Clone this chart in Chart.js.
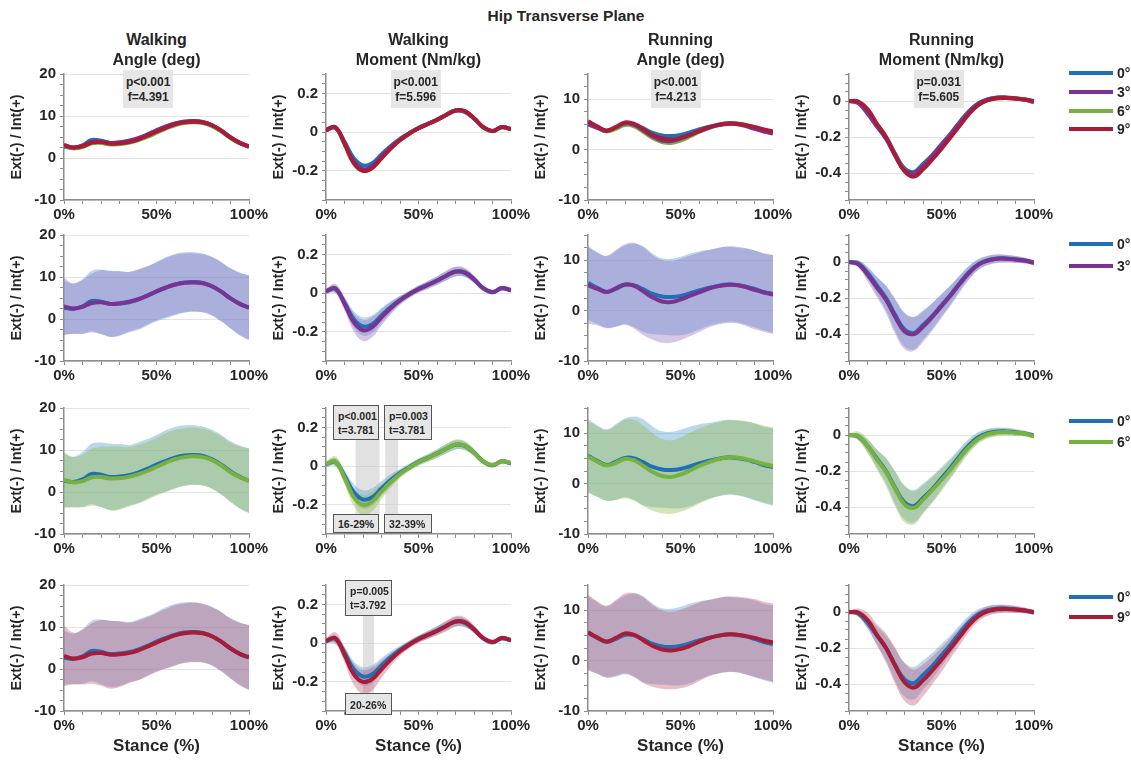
<!DOCTYPE html>
<html>
<head>
<meta charset="utf-8">
<script src="https://cdn.jsdelivr.net/npm/chart.js@4.4.1/dist/chart.umd.min.js"></script>
<style>
  body { margin: 0; background: #fff; font-family: "Liberation Sans", Arial, sans-serif; }
  #page { position: relative; width: 1131px; height: 762px; overflow: hidden; }
  .panel { position: absolute; }
  .txt { position: absolute; font-weight: bold; color: #262626; white-space: nowrap; text-align: center; }
  .box { position: absolute; background: #e6e6e6; font-weight: bold; color: #262626; box-sizing: border-box; white-space: nowrap; }
  .legline { position: absolute; height: 4px; }
</style>
</head>
<body>
<div id="page"></div>
<script>
// stance (%) sample points
const stance = [0,5,10,15,20,25,30,35,40,45,50,55,60,65,70,75,80,85,90,95,100];

// walking hip angle (deg) - means and SD per slope condition
const walkAngle0 = [2.7,2.4,3.0,4.3,4.1,3.6,3.7,4.0,4.6,5.5,6.5,7.4,8.2,8.7,8.8,8.6,7.8,6.5,4.9,3.6,2.7];
const walkAngle3 = [3.0,2.5,2.9,3.8,4.0,3.6,3.7,4.1,4.7,5.6,6.6,7.5,8.2,8.6,8.7,8.5,7.8,6.5,4.9,3.6,2.7];
const walkAngle6 = [2.9,2.3,2.6,3.5,3.6,3.2,3.3,3.6,4.2,5.0,6.0,7.0,7.8,8.3,8.5,8.3,7.6,6.3,4.7,3.5,2.7];
const walkAngle9 = [3.1,2.5,2.8,3.7,3.8,3.4,3.5,3.8,4.4,5.3,6.3,7.2,8.0,8.5,8.7,8.5,7.8,6.5,4.9,3.6,2.8];
const walkAngleSd0 = [6.4,6.0,6.5,7.2,7.7,7.9,7.7,7.2,7.2,7.1,7.1,7.3,7.3,7.2,7.1,7.0,7.0,7.1,7.2,7.5,7.7];
const walkAngleSd3 = [6.8,6.0,6.4,7.0,7.6,7.8,7.6,7.1,7.0,6.9,6.9,7.0,7.1,7.0,6.9,6.9,6.9,7.0,7.1,7.4,7.6];
const walkAngleSd6 = [6.6,6.0,6.3,6.8,7.2,7.6,7.5,7.1,7.0,6.9,6.9,7.0,7.0,6.9,6.8,6.8,6.8,6.9,7.1,7.4,7.6];
const walkAngleSd9 = [7.2,6.2,6.5,7.2,7.8,8.1,7.8,7.2,7.1,7.0,7.0,7.1,7.2,7.1,7.1,7.0,6.9,7.0,7.1,7.4,7.7];

// walking hip moment (Nm/kg)
const walkMoment0 = [0.010,0.022,-0.050,-0.135,-0.172,-0.160,-0.115,-0.072,-0.035,-0.005,0.022,0.043,0.065,0.090,0.110,0.105,0.070,0.025,0.005,0.025,0.015];
const walkMoment3 = [0.010,0.025,-0.055,-0.150,-0.192,-0.175,-0.125,-0.078,-0.038,-0.006,0.020,0.042,0.064,0.090,0.112,0.107,0.072,0.026,0.006,0.026,0.016];
const walkMoment6 = [0.012,0.025,-0.060,-0.160,-0.200,-0.182,-0.130,-0.082,-0.040,-0.008,0.020,0.042,0.064,0.090,0.112,0.106,0.070,0.025,0.006,0.025,0.016];
const walkMoment9 = [0.012,0.026,-0.060,-0.160,-0.200,-0.185,-0.135,-0.085,-0.042,-0.008,0.020,0.042,0.063,0.088,0.112,0.108,0.072,0.026,0.006,0.026,0.016];
const walkMomentSd0 = [0.012,0.020,0.030,0.042,0.048,0.046,0.038,0.030,0.022,0.018,0.018,0.020,0.022,0.024,0.024,0.022,0.018,0.014,0.012,0.012,0.012];
const walkMomentSd3 = [0.013,0.024,0.034,0.048,0.055,0.052,0.042,0.032,0.023,0.019,0.018,0.020,0.022,0.024,0.025,0.023,0.019,0.015,0.012,0.012,0.012];
const walkMomentSd6 = [0.014,0.026,0.034,0.046,0.052,0.050,0.040,0.030,0.022,0.018,0.018,0.020,0.022,0.025,0.026,0.024,0.019,0.015,0.012,0.012,0.012];
const walkMomentSd9 = [0.014,0.030,0.040,0.055,0.062,0.058,0.045,0.033,0.024,0.020,0.019,0.021,0.023,0.026,0.027,0.025,0.020,0.016,0.013,0.013,0.013];

// running hip angle (deg)
const runAngle0 = [5.5,4.5,3.7,4.3,5.1,5.0,4.2,3.3,2.8,2.7,2.9,3.4,4.0,4.5,4.9,5.2,5.1,4.8,4.3,3.7,3.3];
const runAngle3 = [5.0,4.3,3.7,4.4,5.2,4.9,3.8,2.6,1.8,1.7,2.2,2.9,3.6,4.3,4.8,5.1,5.1,4.7,4.1,3.6,3.2];
const runAngle6 = [5.4,4.4,3.6,4.1,4.9,4.6,3.5,2.3,1.5,1.3,1.8,2.6,3.5,4.2,4.8,5.2,5.2,4.9,4.4,3.9,3.5];
const runAngle9 = [5.6,4.6,3.8,4.5,5.4,5.1,4.0,2.9,2.2,2.0,2.3,2.9,3.7,4.4,4.9,5.2,5.2,4.9,4.5,4.0,3.6];
const runAngleSd0 = [7.25,7.1,7.1,7.5,7.8,8.3,8.5,8.0,7.6,7.6,7.8,7.9,7.75,7.5,7.45,7.45,7.4,7.5,7.6,7.6,7.7];
const runAngleSd3 = [7.6,7.2,7.2,7.6,8.0,8.5,8.7,8.4,8.2,8.1,8.1,8.0,7.9,7.7,7.6,7.6,7.6,7.7,7.8,7.8,7.9];
const runAngleSd6 = [7.0,7.0,7.0,7.4,7.8,8.0,8.0,7.7,7.4,7.3,7.4,7.5,7.5,7.4,7.3,7.3,7.4,7.5,7.6,7.6,7.7];
const runAngleSd9 = [7.5,7.2,7.1,7.5,7.9,8.3,8.5,8.1,7.8,7.7,7.8,7.9,7.8,7.6,7.5,7.5,7.5,7.6,7.7,7.7,7.8];

// running hip moment (Nm/kg)
const runMoment0 = [0,-0.008,-0.060,-0.130,-0.200,-0.295,-0.375,-0.395,-0.350,-0.300,-0.240,-0.180,-0.115,-0.055,-0.012,0.010,0.020,0.020,0.015,0.008,-0.003];
const runMoment3 = [0,-0.012,-0.070,-0.140,-0.210,-0.305,-0.385,-0.400,-0.360,-0.305,-0.245,-0.185,-0.120,-0.060,-0.015,0.008,0.018,0.018,0.014,0.008,-0.005];
const runMoment6 = [0,-0.005,-0.060,-0.135,-0.205,-0.300,-0.385,-0.405,-0.360,-0.305,-0.250,-0.190,-0.125,-0.065,-0.020,0.005,0.015,0.017,0.013,0.008,-0.008];
const runMoment9 = [0,-0.003,-0.045,-0.125,-0.200,-0.300,-0.390,-0.420,-0.380,-0.325,-0.265,-0.200,-0.135,-0.070,-0.022,0.005,0.015,0.017,0.014,0.008,0.000];
const runMomentSd0 = [0.005,0.018,0.035,0.050,0.070,0.090,0.095,0.090,0.080,0.072,0.062,0.052,0.043,0.035,0.028,0.025,0.022,0.020,0.018,0.015,0.012];
const runMomentSd3 = [0.006,0.020,0.038,0.054,0.075,0.095,0.100,0.095,0.085,0.076,0.066,0.056,0.046,0.037,0.030,0.026,0.023,0.021,0.019,0.016,0.013];
const runMomentSd6 = [0.008,0.025,0.040,0.055,0.078,0.098,0.100,0.092,0.080,0.072,0.062,0.052,0.043,0.035,0.028,0.025,0.022,0.020,0.018,0.015,0.012];
const runMomentSd9 = [0.006,0.022,0.042,0.058,0.080,0.100,0.105,0.100,0.088,0.078,0.068,0.057,0.047,0.038,0.030,0.026,0.023,0.021,0.019,0.016,0.013];

// tick labels
const xTickLabels = [0, 50, 100];
const walkAngleTicks = [-10, 0, 10, 20];
const walkMomentTicks = [-0.2, 0, 0.2];
const runAngleTicks = [-10, 0, 10];
const runMomentTicks = [-0.4, -0.2, 0];

// conditions
const slopes = ['0°', '3°', '6°', '9°'];
const lineColors = ['#1f70b6', '#7a3391', '#77b140', '#a91c38'];
const bandColors = ['rgba(91,160,215,0.42)', 'rgba(150,115,190,0.40)', 'rgba(150,190,80,0.42)', 'rgba(195,85,110,0.38)'];

// stats text
const anovaStats = [['p<0.001','f=4.391'], ['p<0.001','f=5.596'], ['p<0.001','f=4.213'], ['p=0.031','f=5.605']];
const cluster6 = [[16, 29], [32, 39]];
const cluster6Stats = [['p<0.001','t=3.781'], ['p=0.003','t=3.781']];
const cluster9 = [[20, 26]];
const cluster9Stats = [['p=0.005','t=3.792']];

const variables = [
  { title: ['Walking', 'Angle (deg)'], means: [walkAngle0, walkAngle3, walkAngle6, walkAngle9], sds: [walkAngleSd0, walkAngleSd3, walkAngleSd6, walkAngleSd9], min: -10, max: 20, step: 2.5, ticks: walkAngleTicks },
  { title: ['Walking', 'Moment (Nm/kg)'], means: [walkMoment0, walkMoment3, walkMoment6, walkMoment9], sds: [walkMomentSd0, walkMomentSd3, walkMomentSd6, walkMomentSd9], min: -0.35, max: 0.3, step: 0.05, ticks: walkMomentTicks },
  { title: ['Running', 'Angle (deg)'], means: [runAngle0, runAngle3, runAngle6, runAngle9], sds: [runAngleSd0, runAngleSd3, runAngleSd6, runAngleSd9], min: -10, max: 15, step: 2.5, ticks: runAngleTicks },
  { title: ['Running', 'Moment (Nm/kg)'], means: [runMoment0, runMoment3, runMoment6, runMoment9], sds: [runMomentSd0, runMomentSd3, runMomentSd6, runMomentSd9], min: -0.55, max: 0.15, step: 0.05, ticks: runMomentTicks },
];

const colLeft = [64, 326, 588, 849];
const rowTop = [74, 235, 408, 585];
const plotW = 185, plotH = 126;

Chart.defaults.font.family = '"Liberation Sans", Arial, sans-serif';
Chart.defaults.font.weight = 'bold';
Chart.defaults.color = '#262626';

const page = document.getElementById('page');

function addText(text, x, y, size, w) {
  const d = document.createElement('div');
  d.className = 'txt';
  d.textContent = text;
  d.style.fontSize = size + 'px';
  d.style.lineHeight = size + 'px';
  d.style.width = w + 'px';
  d.style.left = (x - w / 2) + 'px';
  d.style.top = (y - size / 2) + 'px';
  page.appendChild(d);
}

const shadePlugin = {
  id: 'shade',
  beforeDatasetsDraw(chart) {
    const list = chart.config.options.shadeRanges;
    if (!list) return;
    const { ctx, scales: { x, y } } = chart;
    ctx.save();
    ctx.fillStyle = 'rgba(195,195,195,0.5)';
    list.forEach(s => {
      const x0 = x.getPixelForValue(s[0]), x1 = x.getPixelForValue(s[1]);
      const y0 = y.getPixelForValue(0.14), y1 = y.getPixelForValue(-0.255);
      ctx.fillRect(x0, y0, x1 - x0, y1 - y0);
    });
    ctx.restore();
  }
};

function series(mean, off) {
  return stance.map((x, i) => ({ x: x, y: mean[i] + off(i) }));
}

function buildDatasets(v, row) {
  const ds = [];
  if (row === 0) {
    const lineOrder = [4, 2, 3, 1];
    [0, 1, 2, 3].forEach(k => {
      ds.push({ data: series(v.means[k], () => 0), borderColor: lineColors[k], borderWidth: 4, pointRadius: 0, tension: 0.4, fill: false, order: lineOrder[k] });
    });
    return ds;
  }
  [0, row].forEach((k, j) => {
    const sd = v.sds[k];
    ds.push({ data: series(v.means[k], i => sd[i]), borderWidth: 0, borderColor: 'transparent', pointRadius: 0, tension: 0.4, fill: false, order: 10 - j });
    ds.push({ data: series(v.means[k], i => -sd[i]), borderWidth: 0, borderColor: 'transparent', backgroundColor: bandColors[k], pointRadius: 0, tension: 0.4, fill: '-1', order: 10 - j });
  });
  [0, row].forEach((k, j) => {
    ds.push({ data: series(v.means[k], () => 0), borderColor: lineColors[k], borderWidth: 4, pointRadius: 0, tension: 0.4, fill: false, order: 3 - j });
  });
  return ds;
}

function isLabel(list, val) {
  return list.some(t => Math.abs(t - val) < 1e-6);
}

function makePanel(row, col) {
  const v = variables[col];
  const xTitleH = row === 3 ? 46 : 32;
  const wrap = document.createElement('div');
  wrap.className = 'panel';
  let W = 62 + plotW + 22, H = 10 + plotH + xTitleH;
  wrap.style.width = W + 'px';
  wrap.style.height = H + 'px';
  wrap.style.left = (colLeft[col] - 62) + 'px';
  wrap.style.top = (rowTop[row] - 10) + 'px';
  const cv = document.createElement('canvas');
  wrap.appendChild(cv);
  page.appendChild(wrap);

  let shade = null;
  if (col === 1 && row === 2) shade = cluster6;
  if (col === 1 && row === 3) shade = cluster9;

  const chart = new Chart(cv, {
    type: 'line',
    data: { datasets: buildDatasets(v, row) },
    plugins: [shadePlugin],
    options: {
      responsive: true,
      maintainAspectRatio: false,
      animation: false,
      events: [],
      shadeRanges: shade,
      layout: { padding: 0 },
      plugins: { legend: { display: false }, tooltip: { enabled: false } },
      scales: {
        x: {
          type: 'linear', min: 0, max: 100,
          afterBuildTicks: s => { const t = []; for (let k = 0; k <= 100; k += 10) t.push({ value: k }); s.ticks = t; },
          afterFit: s => { s.height = xTitleH; },
          ticks: { autoSkip: false, maxRotation: 0, padding: 2, font: { size: 15, weight: 'bold' }, color: '#262626',
                   callback: val => isLabel(xTickLabels, val) ? val + '%' : '' },
          grid: { drawOnChartArea: false, tickLength: 4, tickColor: '#8c8c8c' },
          border: { display: true, color: '#8c8c8c', width: 1.5 },
          title: { display: row === 3, text: 'Stance (%)', font: { size: 17, weight: 'bold' }, color: '#262626', padding: { top: 2, bottom: 0 } }
        },
        y: {
          min: v.min, max: v.max,
          afterBuildTicks: s => {
            const t = [];
            const n = Math.round((v.max - v.min) / v.step);
            for (let k = 0; k <= n; k++) t.push({ value: Math.round((v.min + k * v.step) * 1000) / 1000 });
            s.ticks = t;
          },
          afterFit: s => { s.width = 62; },
          ticks: { autoSkip: false, padding: 4, font: { size: 15, weight: 'bold' }, color: '#262626',
                   callback: val => isLabel(v.ticks, val) ? String(Math.round(val * 100) / 100) : '' },
          grid: {
            color: c => (c.tick && isLabel(v.ticks, c.tick.value)) ? '#e3e3e3' : 'rgba(0,0,0,0)',
            lineWidth: 1, tickLength: 4, tickColor: '#8c8c8c'
          },
          border: { display: true, color: '#8c8c8c', width: 1.5 },
          title: { display: true, text: 'Ext(-) / Int(+)', font: { size: 14.5, weight: 'bold' }, color: '#262626', padding: { top: 6, bottom: 0 } }
        }
      }
    }
  });

  // size & place so the plot area lands where the reference has it
  let ca = chart.chartArea;
  W += plotW - (ca.right - ca.left);
  H += plotH - (ca.bottom - ca.top);
  wrap.style.width = W + 'px';
  wrap.style.height = H + 'px';
  chart.resize();
  ca = chart.chartArea;
  const offX = colLeft[col] - ca.left, offY = rowTop[row] - ca.top;
  wrap.style.left = offX + 'px';
  wrap.style.top = offY + 'px';
  return { chart, offX, offY };
}

function addBox(p, x0, x1, y0, y1, lines, opts) {
  const { chart, offX, offY } = p;
  const sx = chart.scales.x, sy = chart.scales.y;
  const left = offX + sx.getPixelForValue(x0), right = offX + sx.getPixelForValue(x1);
  const top = offY + sy.getPixelForValue(y0), bottom = offY + sy.getPixelForValue(y1);
  const d = document.createElement('div');
  d.className = 'box';
  d.style.left = left + 'px';
  d.style.top = top + 'px';
  d.style.width = (right - left) + 'px';
  d.style.height = (bottom - top) + 'px';
  d.style.fontSize = opts.size + 'px';
  d.style.lineHeight = opts.lh + 'px';
  d.style.textAlign = opts.align;
  d.style.paddingTop = opts.pt + 'px';
  d.style.paddingLeft = opts.pl + 'px';
  if (opts.border) d.style.border = '1.5px solid #555';
  lines.forEach((t, i) => {
    if (i) d.appendChild(document.createElement('br'));
    d.appendChild(document.createTextNode(t));
  });
  page.appendChild(d);
}

const panels = [];
for (let r = 0; r < 4; r++) {
  panels.push([]);
  for (let c = 0; c < 4; c++) panels[r].push(makePanel(r, c));
}

// titles
addText('Hip Transverse Plane', 566, 16, 15.5, 300);
variables.forEach((v, c) => {
  addText(v.title[0], colLeft[c] + plotW / 2, 40, 16, 200);
  addText(v.title[1], colLeft[c] + plotW / 2, 60, 16, 200);
});

// ANOVA boxes (top row)
const anovaBoxX = [[32, 59], [35, 62], [34, 61], [35, 62]];
panels[0].forEach((p, c) => {
  const v = variables[c];
  const unit = (v.max - v.min) / plotH;
  addBox(p, anovaBoxX[c][0], anovaBoxX[c][1], v.max + 4 * unit, v.max - 34 * unit, anovaStats[c],
         { size: 12, lh: 15, align: 'center', pt: 5, pl: 0, border: false });
});

// cluster boxes (walking moment, rows 3 and 4)
const m = variables[1];
const mu = (m.max - m.min) / plotH;
const cluster6BoxX = [[3.8, 28.6], [31.4, 57.3]];
cluster6.forEach((rg, i) => {
  addBox(panels[2][1], cluster6BoxX[i][0], cluster6BoxX[i][1], m.max + 3 * mu, m.max - 32 * mu, cluster6Stats[i],
         { size: 10.5, lh: 14, align: 'left', pt: 3, pl: 4, border: true });
  addBox(panels[2][1], cluster6BoxX[i][0], cluster6BoxX[i][1], m.min + 20 * mu, m.min + 1 * mu, [rg[0] + '-' + rg[1] + '%'],
         { size: 10.5, lh: 14, align: 'left', pt: 2, pl: 4, border: true });
});
const cluster9BoxX = [[10.3, 35.7]];
cluster9.forEach((rg, i) => {
  addBox(panels[3][1], cluster9BoxX[i][0], cluster9BoxX[i][1], m.max + 5 * mu, m.max - 31 * mu, cluster9Stats[i],
         { size: 10.5, lh: 14, align: 'left', pt: 3, pl: 4, border: true });
  addBox(panels[3][1], cluster9BoxX[i][0], cluster9BoxX[i][1], m.min + 18 * mu, m.min - 4 * mu, [rg[0] + '-' + rg[1] + '%'],
         { size: 10.5, lh: 14, align: 'left', pt: 4, pl: 4, border: true });
});

// legends
function addLegend(entries, yList) {
  entries.forEach((k, i) => {
    const l = document.createElement('div');
    l.className = 'legline';
    l.style.background = lineColors[k];
    l.style.left = '1069px';
    l.style.width = '44px';
    l.style.top = (yList[i] - 2) + 'px';
    page.appendChild(l);
    const t = document.createElement('div');
    t.className = 'txt';
    t.style.fontSize = '14px';
    t.style.lineHeight = '14px';
    t.style.textAlign = 'left';
    t.style.left = '1117px';
    t.style.top = (yList[i] - 7) + 'px';
    t.textContent = slopes[k];
    page.appendChild(t);
  });
}
addLegend([0, 1, 2, 3], [73, 92, 111, 129]);
addLegend([0, 1], [244, 266]);
addLegend([0, 2], [421, 442]);
addLegend([0, 3], [597, 617]);
</script>
</body>
</html>
